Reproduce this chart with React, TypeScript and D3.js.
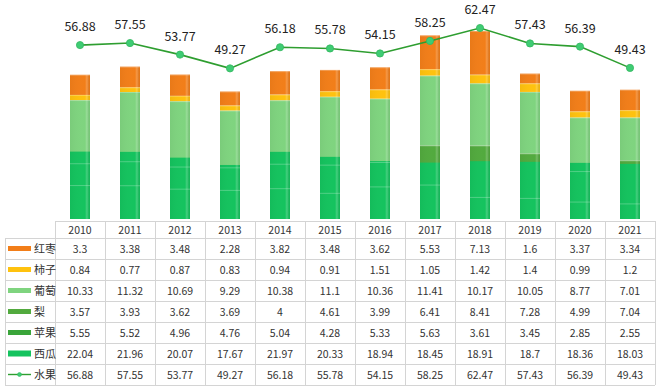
import React from "react";
import * as d3 from "d3";

const years = ["2010","2011","2012","2013","2014","2015","2016","2017","2018","2019","2020","2021"];
const hongzao = [3.3,3.38,3.48,2.28,3.82,3.48,3.62,5.53,7.13,1.6,3.37,3.34];
const shizi = [0.84,0.77,0.87,0.83,0.94,0.91,1.51,1.05,1.42,1.4,0.99,1.2];
const putao = [10.33,11.32,10.69,9.29,10.38,11.1,10.36,11.41,10.17,10.05,8.77,7.01];
const li = [3.57,3.93,3.62,3.69,4,4.61,3.99,6.41,8.41,7.28,4.99,7.04];
const pingguo = [5.55,5.52,4.96,4.76,5.04,4.28,5.33,5.63,3.61,3.45,2.85,2.55];
const xigua = [22.04,21.96,20.07,17.67,21.97,20.33,18.94,18.45,18.91,18.7,18.36,18.03];
const shuiguo = [56.88,57.55,53.77,49.27,56.18,55.78,54.15,58.25,62.47,57.43,56.39,49.43];

const seriesNames = ["红枣","柿子","葡萄","梨","苹果","西瓜","水果"];
const colors: Record<string,string> = {
  "红枣": "#f27e19",
  "柿子": "#ffc20e",
  "葡萄": "#7fd47f",
  "梨": "#52aa3e",
  "苹果": "#3aa53a",
  "西瓜": "#14c35e",
  "水果": "#2e9e30",
};

const W = 660, H = 388;
const baseY = 219, topY = 5;
const tableLeft = 5, tableX0 = 55, tableX1 = 655;
const headerTop = 221, headerH = 17, rowH = 21;

export default function App() {
  const x = d3.scaleBand<string>().domain(years).range([tableX0, tableX1]).padding(0);
  const barW = 20;
  const yPrimary = d3.scaleLinear().domain([0, 35]).range([baseY, topY]);
  const ySecondary = d3.scaleLinear().domain([0, 70]).range([baseY, topY]);

  const stackKeys = ["苹果","梨","葡萄","柿子","红枣"];
  const rows = years.map((yr, i) => ({
    year: yr,
    "苹果": pingguo[i], "梨": li[i], "葡萄": putao[i], "柿子": shizi[i], "红枣": hongzao[i],
  }));
  const stacked = d3.stack<any>().keys(stackKeys)(rows);

  const cx = (yr: string) => (x(yr) as number) + x.bandwidth() / 2;
  const linePath = d3.line<number>()
    .x((_, i) => cx(years[i]))
    .y((d) => ySecondary(d))(shuiguo) as string;

  const tableValues: Record<string, number[]> = {
    "红枣": hongzao, "柿子": shizi, "葡萄": putao, "梨": li, "苹果": pingguo, "西瓜": xigua, "水果": shuiguo,
  };

  const tableBottom = headerTop + headerH + rowH * seriesNames.length;
  const font = "'Noto Sans CJK SC', 'Noto Sans', sans-serif";

  return (
    <svg width={W} height={H} style={{ position: "absolute", left: 0, top: 0, background: "#fff" }}
      fontFamily={font}>
      <defs>
        <linearGradient id="shine" x1="0" x2="1" y1="0" y2="0">
          <stop offset="0" stopColor="#000" stopOpacity="0.04" />
          <stop offset="0.75" stopColor="#fff" stopOpacity="0" />
          <stop offset="0.85" stopColor="#fff" stopOpacity="0.22" />
          <stop offset="1" stopColor="#000" stopOpacity="0.05" />
        </linearGradient>
      </defs>
      {/* primary stacked bars */}
      {stacked.map((s) => (
        <g key={s.key} fill={colors[s.key]}>
          {s.map((d, i) => (
            <rect key={i} x={cx(years[i]) - barW / 2} width={barW}
              y={yPrimary(d[1])} height={Math.max(0, yPrimary(d[0]) - yPrimary(d[1]))} />
          ))}
        </g>
      ))}
      {/* 西瓜 on secondary axis, drawn in front */}
      <g fill={colors["西瓜"]}>
        {xigua.map((v, i) => (
          <rect key={i} x={cx(years[i]) - barW / 2} width={barW}
            y={ySecondary(v)} height={baseY - ySecondary(v)} />
        ))}
      </g>
      {/* segment edge lines and shine */}
      {years.map((yr, i) => {
        const top = yPrimary(stacked[stacked.length - 1][i][1]);
        return (
          <rect key={yr} x={cx(yr) - barW / 2} width={barW} y={top} height={baseY - top}
            fill="url(#shine)" />
        );
      })}
      {stacked.map((s) => (
        <g key={"e" + s.key}>
          {s.map((d, i) => (
            <line key={i} x1={cx(years[i]) - barW / 2} x2={cx(years[i]) + barW / 2}
              y1={yPrimary(d[1]) + 0.5} y2={yPrimary(d[1]) + 0.5}
              stroke="#fff" strokeOpacity={0.25} strokeWidth={1} />
          ))}
        </g>
      ))}
      {/* line */}
      <path d={linePath} fill="none" stroke={colors["水果"]} strokeWidth={1.6} />
      {shuiguo.map((v, i) => (
        <g key={i}>
          <circle cx={cx(years[i])} cy={ySecondary(v)} r={3.6} fill="#3fcc74" stroke="#33b860" strokeWidth={0.8} />
          <text x={cx(years[i])} y={ySecondary(v) - 14} textAnchor="middle" fontSize={12.5}
            fill="#222">{v.toFixed(2)}</text>
        </g>
      ))}

      {/* table */}
      <g stroke="#d4d4d4" strokeWidth={1} shapeRendering="crispEdges">
        <line x1={tableX0} x2={tableX1} y1={headerTop} y2={headerTop} />
        {seriesNames.map((_, r) => (
          <line key={r} x1={tableLeft} x2={tableX1}
            y1={headerTop + headerH + rowH * r} y2={headerTop + headerH + rowH * r} />
        ))}
        <line x1={tableLeft} x2={tableX1} y1={tableBottom} y2={tableBottom} />
        <line x1={tableLeft} x2={tableLeft} y1={headerTop + headerH} y2={tableBottom} />
        {years.map((yr) => (
          <line key={yr} x1={x(yr) as number} x2={x(yr) as number} y1={headerTop} y2={tableBottom} />
        ))}
        <line x1={tableX1} x2={tableX1} y1={headerTop} y2={tableBottom} />
      </g>
      {years.map((yr) => (
        <text key={yr} x={cx(yr)} y={headerTop + headerH / 2 + 4} textAnchor="middle" fontSize={10.5} fill="#333">{yr}</text>
      ))}
      {seriesNames.map((name, r) => {
        const yc = headerTop + headerH + rowH * r + rowH / 2;
        return (
          <g key={name}>
            {name === "水果" ? (
              <g>
                <line x1={8} x2={31} y1={yc} y2={yc} stroke={colors[name]} strokeWidth={1.4} />
                <circle cx={19.5} cy={yc} r={2} fill="#3fcc74" stroke="#33b860" strokeWidth={0.6} />
              </g>
            ) : (
              <rect x={8} y={yc - (name === "西瓜" ? 3 : 2.5)} width={23} height={name === "西瓜" ? 6 : 5}
                fill={colors[name]} />
            )}
            <text x={34} y={yc + 4} fontSize={11} fill="#333">{name}</text>
            {tableValues[name].map((v, i) => (
              <text key={i} x={cx(years[i])} y={yc + 4} textAnchor="middle" fontSize={10.5} fill="#333">{String(v)}</text>
            ))}
          </g>
        );
      })}
    </svg>
  );
}
